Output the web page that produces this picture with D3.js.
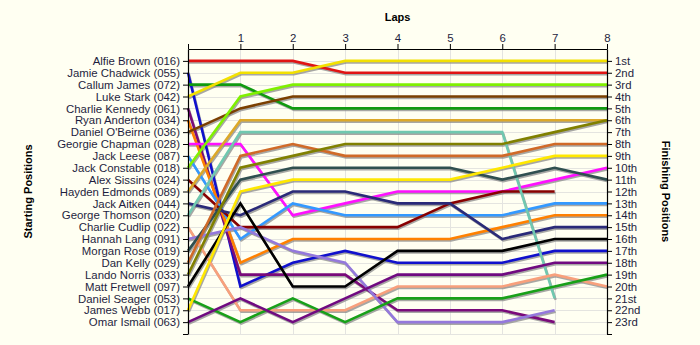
<!DOCTYPE html>
<html>
<head>
<meta charset="utf-8">
<script src="https://cdn.jsdelivr.net/npm/d3@7"></script>
<style>
  html, body { margin: 0; padding: 0; background: #fffff2; }
  svg { display: block; font-family: "Liberation Sans", Arial, sans-serif; }
</style>
</head>
<body>
<svg id="chart" width="700" height="345"></svg>
<script>
// Lap numbers (0 = grid)
const laps = [0, 1, 2, 3, 4, 5, 6, 7, 8];

// Drivers in starting-grid order
const drivers = [
  "Alfie Brown (016)", "Jamie Chadwick (055)", "Callum James (072)", "Luke Stark (042)",
  "Charlie Kennedy (061)", "Ryan Anderton (034)", "Daniel O'Beirne (036)", "Georgie Chapman (028)",
  "Jack Leese (087)", "Jack Constable (018)", "Alex Sissins (024)", "Hayden Edmonds (089)",
  "Jack Aitken (044)", "George Thomson (020)", "Charlie Cudlip (022)", "Hannah Lang (091)",
  "Morgan Rose (019)", "Dan Kelly (029)", "Lando Norris (033)", "Matt Fretwell (097)",
  "Daniel Seager (053)", "James Webb (017)", "Omar Ismail (063)"
];

// Finishing position labels
const finishLabels = [
  "1st", "2nd", "3rd", "4th", "5th", "6th", "7th", "8th", "9th", "10th", "11th", "12th",
  "13th", "14th", "15th", "16th", "17th", "18th", "19th", "20th", "21st", "22nd", "23rd"
];

// Line colour per driver
const driverColors = [
  "#e01414", "#1010cc", "#109a10", "#f2e000", "#7a0a7a", "#ff8000", "#7b3f00", "#ff10ff",
  "#3399ff", "#80f000", "#880000", "#dca828", "#2a2a78", "#70c8b0", "#f8a07c", "#9478dc",
  "#2f4f4f", "#d06a28", "#808000", "#000000", "#18a018", "#ffe800", "#700a80"
];

// Running position at the end of each lap (lap 0 = grid), null = not running
const lapPositions = [
  [1, 1, 1, 2, 2, 2, 2, 2, 2],
  [2, 20, 18, 17, 18, 18, 18, 17, 17],
  [3, 3, 5, 5, 5, 5, 5, 5, 5],
  [4, 2, 2, 1, 1, 1, 1, 1, 1],
  [5, 19, 19, 19, 22, 22, 22, 23, null],
  [6, 18, 16, 16, 16, 16, 15, 14, 14],
  [7, 5, 4, 4, 4, 4, 4, 4, 4],
  [8, 8, 14, 13, 12, 12, 12, 11, 10],
  [9, 16, 13, 14, 14, 14, 14, 13, 13],
  [10, 4, 3, 3, 3, 3, 3, 3, 3],
  [11, 15, 15, 15, 15, 13, 12, 12, null],
  [12, 6, 6, 6, 6, 6, 6, 6, 6],
  [13, 14, 12, 12, 13, 13, 16, 15, 15],
  [14, 7, 7, 7, 7, 7, 7, 21, null],
  [15, 22, 22, 22, 20, 20, 20, 19, 20],
  [16, 15, 17, 18, 23, 23, 23, 22, null],
  [17, 11, 10, 10, 10, 10, 11, 10, 11],
  [18, 9, 8, 9, 9, 9, 9, 8, 8],
  [19, 10, 9, 8, 8, 8, 8, 7, 6],
  [20, 13, 20, 20, 17, 17, 17, 16, 16],
  [21, 23, 21, 23, 21, 21, 21, 20, 19],
  [22, 12, 11, 11, 11, 11, 10, 9, 9],
  [23, 21, 23, 21, 19, 19, 19, 18, 18]
];

const svg = d3.select("#chart");
const W = 700, H = 345;
const plot = { left: 188, right: 607, top: 49, bottom: 334 };
const textColor = "#1e1e40";

const x = d3.scaleLinear().domain([0, 8]).range([plot.left, plot.right]);
const y = d3.scaleLinear().domain([0, drivers.length + 1]).range([plot.top, plot.bottom]);

svg.append("rect").attr("width", W).attr("height", H).attr("fill", "#fffff2");

// Grid
const grid = svg.append("g").attr("stroke", "#e4e4e0").attr("stroke-width", 1);
grid.selectAll("line.h").data(d3.range(1, drivers.length + 2)).join("line")
  .attr("class", "h")
  .attr("x1", plot.left).attr("x2", plot.right)
  .attr("y1", d => Math.round(y(d)) + 0.5).attr("y2", d => Math.round(y(d)) + 0.5);
grid.selectAll("line.v").data(laps.slice(1, -1)).join("line")
  .attr("class", "v")
  .attr("y1", plot.top).attr("y2", plot.bottom)
  .attr("x1", d => Math.round(x(d)) + 0.5).attr("x2", d => Math.round(x(d)) + 0.5);

// Lines
const line = d3.line()
  .defined(d => d.pos != null)
  .x(d => x(d.lap))
  .y(d => y(d.pos));

const series = lapPositions.map((p, i) => ({
  name: drivers[i],
  color: driverColors[i],
  values: laps.map((lap, j) => ({ lap, pos: p[j] }))
}));

const shadows = svg.append("g").attr("transform", "translate(1,1.6)");
shadows.selectAll("path").data(series).join("path")
  .attr("d", d => line(d.values))
  .attr("fill", "none")
  .attr("stroke", "#8a8a8a")
  .attr("stroke-opacity", 0.75)
  .attr("stroke-width", 2.4)
  .attr("stroke-linejoin", "round");

svg.append("g").selectAll("path").data(series).join("path")
  .attr("d", d => line(d.values))
  .attr("fill", "none")
  .attr("stroke", d => d.color)
  .attr("stroke-width", 2.6)
  .attr("stroke-linejoin", "miter");

// Axes
const rowTicks = d3.range(1, drivers.length + 2);

const leftAxis = d3.axisLeft(y).tickValues(rowTicks)
  .tickFormat(d => drivers[d - 1] || "").tickSize(5).tickPadding(3).tickSizeOuter(0);
const rightAxis = d3.axisRight(y).tickValues(rowTicks)
  .tickFormat(d => finishLabels[d - 1] || "").tickSize(5).tickPadding(3).tickSizeOuter(0);
const topAxis = d3.axisTop(x).tickValues(laps)
  .tickFormat(d => d === 0 ? "" : d).tickSize(5).tickPadding(2).tickSizeOuter(0);

function styleAxis(g) {
  g.select(".domain").attr("stroke", "#000").attr("stroke-width", 1.2);
  g.selectAll(".tick line").attr("stroke", "#000");
  g.selectAll(".tick text").attr("fill", textColor).style("font-size", "11.4px")
    .style("font-family", "'Liberation Sans', Arial, sans-serif");
}

svg.append("g").attr("transform", `translate(${plot.left},0)`).call(leftAxis).call(styleAxis);
svg.append("g").attr("transform", `translate(${plot.right},0)`).call(rightAxis).call(styleAxis);
svg.append("g").attr("transform", `translate(0,${plot.top})`).call(topAxis).call(styleAxis);

// Titles
svg.append("text")
  .attr("x", (plot.left + plot.right) / 2).attr("y", 21)
  .attr("text-anchor", "middle").attr("font-weight", "bold").attr("font-size", 11)
  .attr("fill", "#000").text("Laps");

svg.append("text")
  .attr("transform", `translate(32,${(plot.top + plot.bottom) / 2}) rotate(-90)`)
  .attr("text-anchor", "middle").attr("font-weight", "bold").attr("font-size", 11)
  .attr("fill", "#000").text("Starting Positions");

svg.append("text")
  .attr("transform", `translate(662,${(plot.top + plot.bottom) / 2}) rotate(90)`)
  .attr("text-anchor", "middle").attr("font-weight", "bold").attr("font-size", 11)
  .attr("fill", "#000").text("Finishing Positions");
</script>
</body>
</html>
